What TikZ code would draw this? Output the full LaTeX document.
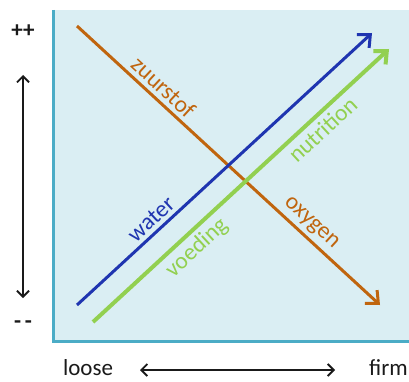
\documentclass[tikz,border=0pt]{standalone}
\usepackage{fontspec}
\setmainfont{Carlito}
\usetikzlibrary{arrows.meta}
\definecolor{bgfill}{HTML}{DAEEF3}
\definecolor{bordc}{HTML}{4BACC6}
\definecolor{oxc}{HTML}{C0650E}
\definecolor{wac}{HTML}{1F35B0}
\definecolor{nuc}{HTML}{92D050}
\definecolor{txc}{HTML}{1A1A1A}
\begin{document}
\begin{tikzpicture}[x=1pt,y=1pt,
  lbl/.style={font=\fontsize{23.5}{26}\selectfont, inner sep=3pt},
  axlbl/.style={font=\fontsize{23}{26}\selectfont, text=txc, inner sep=0pt},
  flow/.style={line width=#1, -{Straight Barb[length=10pt,width=18pt,line width=#1]}},
  axarrow/.style={line width=1.8pt, {Straight Barb[length=6pt,width=12pt]}-{Straight Barb[length=6pt,width=12pt]}}]
\useasboundingbox (0,0) rectangle (409,381);
% panel
\fill[bgfill] (53,40) rectangle (409,371);
\draw[bordc, line width=3pt] (53,371) -- (53,40) -- (409,40);
% coordinates
\coordinate (os) at (77,355);
\coordinate (oe) at (380,76);
\coordinate (ws) at (77,76);
\coordinate (we) at (372,348);
\coordinate (ns) at (93,59);
\coordinate (ne) at (389,332);
% flows
\draw[flow=3pt, oxc] (os) -- (oe)
  node[lbl, pos=0.255, sloped, above=1pt, text=oxc] (zu) {zuurstof}
  node[lbl, pos=0.742, sloped, above=1pt, text=oxc] (ox) {oxygen};
\draw[flow=4pt, nuc] (ns) -- (ne)
  node[lbl, pos=0.314, sloped, below=1pt, text=nuc] (vo) {voeding}
  node[lbl, pos=0.743, sloped, below=1pt, text=nuc] (nu) {nutrition};
\draw[flow=3pt, wac] (ws) -- (we)
  node[lbl, pos=0.281, sloped, above=1pt, text=wac] (wa) {water};
% vertical axis
\node[axlbl] (pp) at (23,350) {\textbf{++}};
\node[axlbl] (mm) at (23,56) {\textbf{-\,-}};
\coordinate (vt) at (23,306);
\coordinate (vb) at (23,83);
\draw[axarrow, txc] (vt) -- (vb);
% horizontal axis
\node[axlbl, anchor=base] (lo) at (88,6) {loose};
\node[axlbl, anchor=base east] (fi) at (408,6) {firm};
\coordinate (hl) at (140,11);
\coordinate (hr) at (335,11);
\draw[axarrow, txc] (hl) -- (hr);
\end{tikzpicture}
\end{document}
